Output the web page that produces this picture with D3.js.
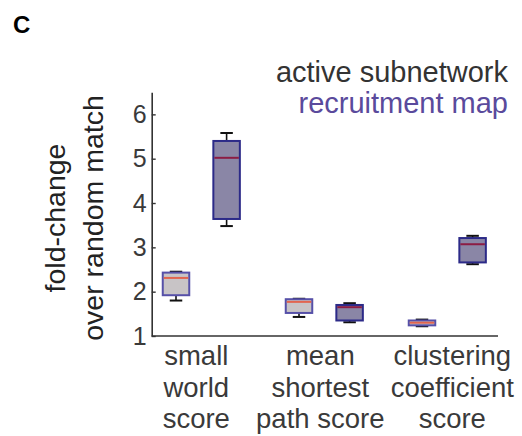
<!DOCTYPE html>
<html>
<head>
<meta charset="utf-8">
<script src="https://cdn.jsdelivr.net/npm/d3@7"></script>
<style>
  html, body { margin: 0; padding: 0; background: #fff; }
  svg { display: block; font-family: "Liberation Sans", Arial, Helvetica, sans-serif; }
</style>
</head>
<body>
<svg id="chart" width="522" height="436"></svg>
<script>
// Category labels (one entry per line)
const categories = [
  ["small", "world", "score"],
  ["mean", "shortest", "path score"],
  ["clustering", "coefficient", "score"]
];
const seriesNames = ["active subnetwork", "recruitment map"];
const yTicks = [1, 2, 3, 4, 5, 6];

// Box statistics per category: lower whisker, Q1, median, Q3, upper whisker
const activeLow    = [1.80, 1.43, 1.22];
const activeQ1     = [1.92, 1.52, 1.24];
const activeMedian = [2.31, 1.77, 1.30];
const activeQ3     = [2.43, 1.83, 1.35];
const activeHigh   = [2.45, 1.84, 1.37];

const recruitLow    = [3.48, 1.31, 2.62];
const recruitQ1     = [3.64, 1.35, 2.66];
const recruitMedian = [5.02, 1.65, 3.07];
const recruitQ3     = [5.40, 1.70, 3.21];
const recruitHigh   = [5.58, 1.74, 3.26];

const series = [
  { name: seriesNames[0], low: activeLow, q1: activeQ1, med: activeMedian, q3: activeQ3, high: activeHigh,
    fill: "#c8c4c6", stroke: "#5650a8", medColor: "#e2654f", text: "#333333" },
  { name: seriesNames[1], low: recruitLow, q1: recruitQ1, med: recruitMedian, q3: recruitQ3, high: recruitHigh,
    fill: "#8a86a6", stroke: "#2c2a88", medColor: "#8c1c44", text: "#5a4a9c" }
];

const svg = d3.select("#chart");
const axisColor = "#333333";
const plotLeft = 151.7, plotRight = 498, plotTop = 92.2, plotBottom = 336;

const y = d3.scaleLinear().domain([1, 6.5]).range([plotBottom, plotTop]);
const xGroup = d3.scalePoint().domain(d3.range(categories.length)).range([201.3, 447.3]);
const xSeries = d3.scalePoint().domain(seriesNames).range([-25.3, 25.3]);
const boxW = 26.5, capW = 12.5;
const labelShift = [-5, -4, 5];

// Boxes
series.forEach(s => {
  const g = svg.append("g");
  categories.forEach((c, i) => {
    const cx = xGroup(i) + xSeries(s.name);
    // whiskers
    g.append("line").attr("x1", cx).attr("x2", cx).attr("y1", y(s.high[i])).attr("y2", y(s.q3[i]))
      .attr("stroke", "#111").attr("stroke-width", 1.6);
    g.append("line").attr("x1", cx).attr("x2", cx).attr("y1", y(s.q1[i])).attr("y2", y(s.low[i]))
      .attr("stroke", "#111").attr("stroke-width", 1.6);
    g.append("line").attr("x1", cx - capW / 2).attr("x2", cx + capW / 2).attr("y1", y(s.high[i])).attr("y2", y(s.high[i]))
      .attr("stroke", "#111").attr("stroke-width", 2);
    g.append("line").attr("x1", cx - capW / 2).attr("x2", cx + capW / 2).attr("y1", y(s.low[i])).attr("y2", y(s.low[i]))
      .attr("stroke", "#111").attr("stroke-width", 2);
    // box
    g.append("rect").attr("x", cx - boxW / 2).attr("width", boxW)
      .attr("y", y(s.q3[i])).attr("height", y(s.q1[i]) - y(s.q3[i]))
      .attr("fill", s.fill).attr("stroke", s.stroke).attr("stroke-width", 2);
    // median
    g.append("line").attr("x1", cx - boxW / 2 + 1).attr("x2", cx + boxW / 2 - 1)
      .attr("y1", y(s.med[i])).attr("y2", y(s.med[i]))
      .attr("stroke", s.medColor).attr("stroke-width", 2);
  });
});

// Y axis with inward ticks
const yAxis = svg.append("g").attr("transform", `translate(${plotLeft},0)`)
  .call(d3.axisLeft(y).tickValues(yTicks).tickFormat(d3.format("d")).tickSizeInner(-4).tickSizeOuter(0).tickPadding(5));
yAxis.select(".domain").attr("stroke", axisColor).attr("stroke-width", 1.6);
yAxis.selectAll(".tick line").attr("stroke", axisColor).attr("stroke-width", 1.4);
yAxis.selectAll(".tick text").attr("fill", "#3a3a3a").attr("font-size", 25);
yAxis.attr("font-family", null).attr("font-size", null);

// X axis baseline
svg.append("line").attr("x1", plotLeft).attr("x2", plotRight).attr("y1", plotBottom).attr("y2", plotBottom)
  .attr("stroke", axisColor).attr("stroke-width", 1.6);

// Category labels
categories.forEach((lines, i) => {
  const t = svg.append("text").attr("text-anchor", "middle").attr("fill", "#3a3a3a").attr("font-size", 27.5);
  lines.forEach((ln, j) => {
    t.append("tspan").attr("x", xGroup(i) + labelShift[i]).attr("y", 365 + j * 31.5).text(ln);
  });
});

// Y axis title
const yt = svg.append("text").attr("transform", "translate(0,218) rotate(-90)")
  .attr("text-anchor", "middle").attr("fill", "#222").attr("font-size", 28.5);
yt.append("tspan").attr("x", 0).attr("y", 65).text("fold-change");
yt.append("tspan").attr("x", 0).attr("y", 103).text("over random match");

// Legend
series.forEach((s, i) => {
  svg.append("text").attr("x", 508).attr("y", 81.5 + i * 31).attr("text-anchor", "end")
    .attr("fill", s.text).attr("font-size", 29).text(s.name);
});

// Panel letter
svg.append("text").attr("x", 13).attr("y", 33).attr("font-size", 24).attr("font-weight", "bold")
  .attr("fill", "#000").text("C");
</script>
</body>
</html>
